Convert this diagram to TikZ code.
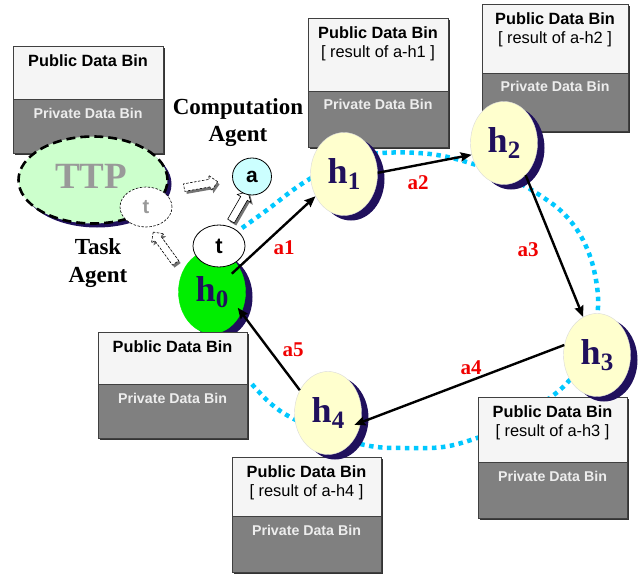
\documentclass[tikz,border=0pt]{standalone}
\usepackage{fontspec}
\setmainfont{Liberation Serif}
\setsansfont{Liberation Sans}
\usetikzlibrary{shapes.geometric,shapes.arrows,shadows,arrows.meta}
\definecolor{navy}{RGB}{32,16,92}
\definecolor{hyellow}{RGB}{255,255,206}
\definecolor{hgreen}{RGB}{0,238,0}
\definecolor{skyb}{RGB}{0,200,255}
\definecolor{pubfill}{RGB}{245,245,245}
\definecolor{privfill}{RGB}{128,128,128}
\definecolor{ttpgreen}{RGB}{204,255,204}
\definecolor{acyan}{RGB}{204,255,255}
\definecolor{labred}{RGB}{240,0,0}

\newcommand{\hlab}[1]{{\fontsize{36}{36}\selectfont\bfseries h}\raisebox{-6pt}{\fontsize{25}{25}\selectfont\bfseries #1}}

\newcommand{\binbox}[6]{%
  \fill[black!80] (#1+2,#2+2) rectangle (#4+2,#5+2);
  \filldraw[fill=pubfill, draw=black!75, line width=0.8pt] (#1,#2) rectangle (#4,#3);
  \filldraw[fill=privfill, draw=black!75, line width=0.8pt] (#1,#3) rectangle (#4,#5);
  \node[pubtext] (#6pub) at ({(#1+#4)/2},#2+20.5) {Public Data Bin};
  \node[privtext] (#6priv) at ({(#1+#4)/2},#3+19) {Private Data Bin};
}
\newcommand{\resline}[4]{%
  \node[restext] (res#4) at ({(#1+#2)/2},#3+39.5) {[ result of a-#4 ]};
}

\tikzset{
  pubtext/.style={anchor=base, inner sep=0pt, font=\sffamily\bfseries\fontsize{16.3}{18}\selectfont},
  restext/.style={anchor=base, inner sep=0pt, font=\sffamily\fontsize{16.4}{18}\selectfont},
  privtext/.style={anchor=base, inner sep=0pt, text=white!93!black, font=\sffamily\bfseries\fontsize{14.2}{16}\selectfont},
  hnode/.style={ellipse, minimum width=67pt, minimum height=83pt, inner sep=0pt, fill=hyellow,
    draw=white!85!black, line width=0.4pt, text=navy,
    drop shadow={shadow xshift=7pt, shadow yshift=-5pt, fill=navy, opacity=1}},
  conn/.style={line width=2.4pt, -{Stealth[length=11pt,width=9pt,inset=1.5pt]}},
  edgelab/.style={text=labred, font=\bfseries\fontsize{21}{21}\selectfont, inner sep=0pt},
  agentlab/.style={anchor=base, inner sep=0pt, font=\bfseries\fontsize{23}{23}\selectfont},
  blockarr/.style={single arrow, fill=white, draw=black, line width=0.6pt, inner sep=3.5pt,
    single arrow head extend=4pt, minimum height=#1,
    drop shadow={shadow xshift=2pt, shadow yshift=-2.5pt, fill=black!55, opacity=1}},
  dotcurve/.style={skyb, line width=4.5pt, dash pattern=on 4.5pt off 4.5pt}
}

\begin{document}
\begin{tikzpicture}[x=1pt,y=-1pt]
\useasboundingbox (0,0) rectangle (642,575);

% cyan dotted ring
\draw[dotcurve] plot[smooth, tension=0.6] coordinates {
 (242,228) (267,210) (293,190) (313,177) (345,160) (382,153) (430,154) (470,163)
 (510,178) (547,200) (567,217) (583,240) (594,270) (598,307) (590,350) (567,383)
 (540,405) (510,425) (477,438) (443,447) (403,448) (370,446) (330,435) (292,418)
 (270,403) (250,382)};

% data bins
\binbox{13}{46}{99}{163}{153}{ttp}
\binbox{308}{18}{91}{448}{147}{bhone}
\resline{308}{448}{18}{h1}
\binbox{482}{4}{73}{628}{131}{bhtwo}
\resline{482}{628}{4}{h2}
\binbox{478}{397}{462}{627}{518}{bhthree}
\resline{478}{627}{397}{h3}
\binbox{232}{457}{516}{381}{572}{bhfour}
\resline{232}{381}{457}{h4}

% block arrows
\node[blockarr=34pt, dashed, dash pattern=on 2.5pt off 1.5pt, rotate=10] (barr1) at (199,185) {};
\node[blockarr=38pt, dashed, dash pattern=on 2.5pt off 1.5pt, rotate=126] (barr2) at (165.5,249) {};
\node[blockarr=34pt, rotate=60] (barr3) at (238.5,208) {};

% TTP
\node[ellipse, minimum width=149pt, minimum height=87pt, inner sep=0pt, fill=ttpgreen,
  draw=black, line width=2.6pt, dash pattern=on 9pt off 5pt,
  drop shadow={shadow xshift=4pt, shadow yshift=-4pt, fill=navy, opacity=1}] (ttp) at (93,180) {};
\node[anchor=base, inner sep=0pt, text=black!40, font=\bfseries\fontsize{37}{37}\selectfont] (ttptxt) at (91,188) {TTP};
\node[ellipse, minimum width=52pt, minimum height=40pt, inner sep=0pt, fill=white, draw=black,
  line width=0.6pt, dash pattern=on 2.5pt off 1.5pt, text=black!40,
  font=\sffamily\bfseries\fontsize{20}{20}\selectfont] (tdash) at (146,207) {t};

% hosts
\node[hnode] (h1) at (344,174) {\hlab{1}};
\node[hnode] (h2) at (504,143) {\hlab{2}};
\node[hnode] (h3) at (597,355) {\hlab{3}};
\node[hnode] (h4) at (328,413) {\hlab{4}};
\node[hnode, fill=hgreen, draw=hgreen] (h0) at (212,292) {\hlab{0}};

\binbox{98}{332}{384}{247}{438}{bhzero}

% agents
\node[ellipse, minimum width=39pt, minimum height=37pt, inner sep=0pt, fill=acyan, draw=black,
  line width=0.8pt, font=\sffamily\bfseries\fontsize{21}{21}\selectfont] (a) at (252,176.5) {a};
\node[ellipse, minimum width=52pt, minimum height=42pt, inner sep=0pt, fill=white, draw=black,
  line width=0.8pt, font=\sffamily\bfseries\fontsize{22}{22}\selectfont] (t) at (219,246) {t};

% labels
\node[agentlab] (comp1) at (238,115) {Computation};
\node[agentlab] (comp2) at (238,142) {Agent};
\node[agentlab] (task1) at (98,254) {Task};
\node[agentlab] (task2) at (98,282) {Agent};

% connectors
\draw[conn, shorten <=27pt] (h0.center) -- (h1.-142);
\draw[conn] (h1.2) -- (h2.-160);
\draw[conn] (h2.-56) -- (h3.110);
\draw[conn, shorten >=-7pt] (h3.163) -- (h4.-16);
\draw[conn, shorten >=-6pt] (h4.141) -- (h0.-35);

\node[edgelab] (la1) at (284,248) {a1};
\node[edgelab] (la2) at (418,183) {a2};
\node[edgelab] (la3) at (528,250) {a3};
\node[edgelab] (la4) at (471,368) {a4};
\node[edgelab] (la5) at (293,350) {a5};
\end{tikzpicture}
\end{document}
